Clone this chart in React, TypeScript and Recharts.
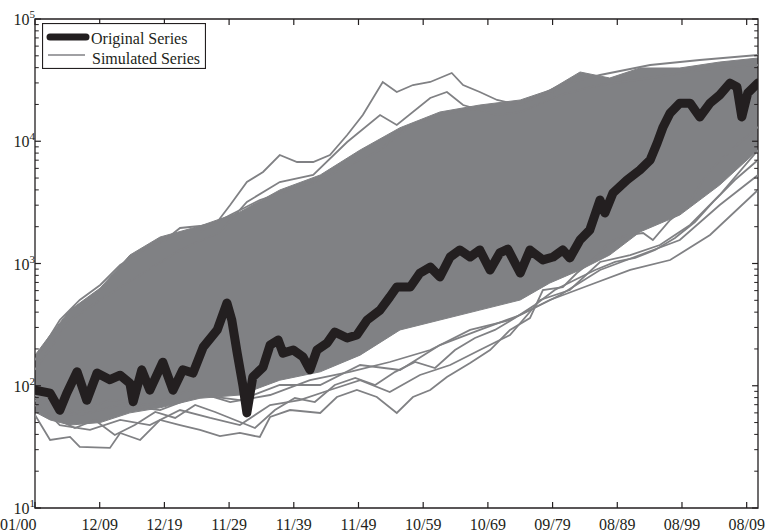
import React from 'react';
import {
  ComposedChart,
  Line,
  Area,
  XAxis,
  YAxis,
  ReferenceLine,
  ReferenceArea,
  Legend,
} from 'recharts';

// x = observation index (monthly), ticks every 120 observations
const dateTicks = [0, 120, 240, 360, 480, 600, 720, 840, 960, 1080, 1200, 1320];
const dateLabels = ['01/00', '12/09', '12/19', '11/29', '11/39', '11/49', '10/59', '10/69', '09/79', '08/89', '08/99', '08/09'];
const lastObs = 1341;
const decadeTicks = [10, 100, 1000, 10000, 100000];
const minorSteps = [2, 3, 4, 5, 6, 7, 8, 9];

// original series
const originalT = [0, 28, 46, 59, 78, 96, 115, 139, 158, 176, 182, 198, 213, 237, 256, 274, 293, 312, 338, 356, 365, 375, 386, 393, 404, 423, 436, 451, 460, 479, 497, 510, 523, 542, 556, 579, 597, 616, 640, 658, 671, 696, 714, 733, 751, 770, 788, 807, 825, 844, 862, 877, 900, 918, 942, 961, 979, 992, 1011, 1029, 1048, 1057, 1072, 1098, 1122, 1141, 1154, 1165, 1178, 1196, 1215, 1233, 1252, 1270, 1289, 1302, 1311, 1322, 1341];
const originalV = [92, 87, 63, 87, 130, 76, 127, 112, 122, 105, 74, 135, 92, 156, 92, 135, 127, 207, 286, 475, 345, 185, 98, 60, 118, 142, 215, 237, 185, 196, 172, 135, 196, 224, 275, 246, 260, 345, 416, 532, 642, 642, 836, 936, 776, 1130, 1290, 1130, 1290, 885, 1220, 1310, 836, 1290, 1070, 1130, 1290, 1110, 1560, 1880, 3310, 2590, 3770, 4820, 5820, 7020, 9670, 13100, 17000, 20500, 20500, 15800, 20500, 23900, 29900, 27800, 15800, 24800, 29900];

// dense core of the simulated paths (low / high edge)
const bandT = [0, 28, 65, 121, 176, 232, 306, 380, 454, 529, 603, 677, 751, 825, 900, 955, 1011, 1066, 1122, 1196, 1270, 1341];
const bandLow = [61, 52.5, 47.7, 50, 60, 66, 79, 84, 111, 130, 178, 286, 345, 416, 503, 693, 885, 1173, 1810, 2493, 4386, 8480];
const bandHigh = [178, 260, 416, 630, 1173, 1647, 2026, 2638, 3993, 5296, 8480, 12900, 17350, 19790, 21750, 26260, 36860, 32910, 39740, 39740, 44490, 47970];

// individual simulated paths at the edges of the fan
const simAT = [0, 46, 83, 121, 158, 208, 241, 269, 306, 338, 362, 393, 423, 454, 486, 516, 547, 579, 608, 645, 671, 701, 733, 773, 794, 825, 857, 900, 974, 1048, 1141, 1233, 1341];
const simAV = [162, 345, 503, 667, 972, 1339, 1557, 1952, 2026, 2185, 3009, 4642, 5605, 7719, 6767, 6767, 7719, 11250, 16400, 30530, 25290, 28850, 30530, 36170, 28850, 25290, 21750, 19790, 28850, 34830, 42040, 46190, 50770];

const simBT = [0, 65, 121, 195, 269, 343, 393, 454, 516, 579, 640, 671, 733, 764, 794, 857, 900, 974, 1048, 1141, 1233, 1341];
const simBV = [135, 345, 503, 805, 1290, 1810, 3186, 4642, 5296, 9860, 16400, 13580, 22580, 25290, 19790, 16400, 17350, 23890, 28850, 32910, 38250, 42040];

const simCT = [306, 362, 417, 473, 529, 584, 640, 696, 751, 807, 862, 918, 974];
const simCV = [1810, 2493, 3307, 3993, 4820, 6392, 8480, 13580, 16400, 18010, 19790, 21750, 26260];

const simDT = [0, 28, 65, 83, 139, 158, 195, 232, 269, 306, 343, 380, 417, 436, 473, 529, 560, 597, 634, 671, 701, 733, 764, 807, 844, 881, 918, 942, 979, 1005, 1035, 1066, 1098, 1128, 1146, 1178, 1209, 1239, 1265, 1302, 1341];
const simDV = [57.6, 36, 38.1, 31.6, 31, 41.1, 36, 52.5, 47.7, 43.5, 38.8, 41.1, 38.1, 55.5, 63.3, 59.9, 80.9, 92.3, 80.9, 59.9, 80.9, 92.3, 118, 153.5, 196, 286, 358, 607, 642, 836, 1068, 1499, 1710, 1776, 1557, 2269, 2899, 4820, 6640, 9320, 13080];

const simET = [0, 46, 102, 158, 213, 269, 325, 380, 436, 491, 547, 603, 658, 714, 770, 825, 881, 937, 992, 1048, 1104, 1159, 1215, 1270, 1341];
const simEV = [76.4, 47.7, 43.5, 52.5, 47.7, 63.3, 54.5, 47.7, 69.6, 76.4, 92.3, 111, 88.9, 122.4, 147.8, 196, 260, 503, 607, 1029, 1173, 1417, 2065, 3634, 8480];

const simFT = [0, 83, 158, 232, 306, 380, 454, 529, 603, 677, 751, 825, 900, 974, 1048, 1122, 1196, 1270, 1341];
const simFV = [84, 57.6, 69.6, 63.3, 84, 76.4, 101.4, 101.4, 147.8, 134.5, 215, 286, 379, 552, 885, 1173, 1557, 3009, 5296];

const simGT = [0, 37, 74, 111, 148, 185, 223, 260, 297, 334, 371, 408, 445, 482, 519, 556, 594, 631, 668, 705, 742, 779, 816, 853, 890, 927, 964, 1001, 1039, 1076, 1113, 1150, 1187, 1224, 1261, 1298, 1341];
const simGV = [69.6, 54.5, 45.1, 52.5, 39.5, 47.7, 61, 54.5, 69.6, 61, 52.5, 45.1, 63.3, 79.4, 73.6, 101.4, 115.7, 101.4, 130, 156.4, 139.7, 196, 245.8, 286, 358, 457.6, 607, 733, 885, 1029, 1109, 1290, 1617, 2185, 3307, 4820, 7025];

const simHT = [0, 65, 139, 213, 287, 362, 436, 510, 584, 658, 733, 807, 881, 955, 1029, 1104, 1178, 1252, 1341];
const simHV = [79.4, 57.6, 76.4, 69.6, 92.3, 73.6, 84, 111, 130, 156.4, 196, 286, 345, 503, 667, 885, 1068, 1710, 3993];

const INK = '#231f20';
const SIM = '#808184';
const FONT = '"Liberation Serif", "Times New Roman", serif';

const toPoints = (t: number[], v: number[]) => t.map((x, i) => ({ t: x, v: v[i] }));

const original = toPoints(originalT, originalV);
const band = bandT.map((t, i) => ({ t, band: [bandLow[i], bandHigh[i]] }));
const simulated = [
  toPoints(simAT, simAV),
  toPoints(simBT, simBV),
  toPoints(simCT, simCV),
  toPoints(simDT, simDV),
  toPoints(simET, simEV),
  toPoints(simFT, simFV),
  toPoints(simGT, simGV),
  toPoints(simHT, simHV),
];

// inward tick lengths (in data units)
const xTickLen = 11;
const xMinorLen = 7;
const yTickFactor = 1.12;

const DateTick = (props: any) => {
  const { x, y, payload } = props;
  const i = dateTicks.indexOf(payload.value);
  const first = i === 0;
  return (
    <text
      x={first ? 0 : x}
      y={y}
      dy={21.5}
      textAnchor={first ? 'start' : 'middle'}
      fontFamily={FONT}
      fontSize={16}
      fill={INK}
    >
      {dateLabels[i]}
    </text>
  );
};

const PowerTick = (props: any) => {
  const { x, y, payload } = props;
  const exp = Math.round(Math.log10(payload.value));
  return (
    <text x={x} y={y} dy={6} textAnchor="end" fontFamily={FONT} fontSize={16} fill={INK}>
      10
      <tspan dy={-7} fontSize={11}>
        {exp}
      </tspan>
    </text>
  );
};

const renderLegend = () => (
  <svg width={164} height={46} style={{ display: 'block' }}>
    <rect x={0.5} y={0.5} width={163} height={45} fill="#fff" stroke={INK} strokeWidth={1.2} />
    <line x1={8} y1={14} x2={44} y2={14} stroke={INK} strokeWidth={7} strokeLinecap="round" />
    <text x={49} y={21} fontFamily={FONT} fontSize={16} fill={INK}>
      Original Series
    </text>
    <line x1={6} y1={32} x2={43} y2={32} stroke={SIM} strokeWidth={1.5} />
    <text x={50} y={41} fontFamily={FONT} fontSize={16} fill={INK}>
      Simulated Series
    </text>
  </svg>
);

const minorValues = decadeTicks.slice(0, 4).flatMap((d) => minorSteps.map((m) => d * m));

const App: React.FC = () => {
  return (
    <div style={{ position: 'absolute', left: 0, top: 0, width: 765, height: 532, background: '#fff' }}>
      <ComposedChart width={765} height={532} margin={{ top: 19, right: 7, bottom: 0, left: 0 }}>
        <XAxis
          dataKey="t"
          type="number"
          domain={[0, lastObs]}
          ticks={dateTicks}
          interval={0}
          allowDataOverflow
          tick={<DateTick />}
          tickLine={false}
          axisLine={false}
          tickSize={0}
          tickMargin={0}
          height={24}
        />
        <YAxis
          type="number"
          scale="log"
          domain={[10, 100000]}
          ticks={decadeTicks}
          interval={0}
          allowDataOverflow
          tick={<PowerTick />}
          tickLine={false}
          axisLine={false}
          tickSize={0}
          tickMargin={0}
          width={35}
        />
        <Legend
          content={renderLegend}
          layout="horizontal"
          verticalAlign="middle"
          align="center"
          wrapperStyle={{ left: 42, top: 23, width: 164, height: 46 }}
        />

        <Area
          data={band}
          dataKey="band"
          type="linear"
          fill={SIM}
          fillOpacity={1}
          stroke={SIM}
          strokeWidth={1}
          isAnimationActive={false}
          legendType="none"
        />
        {simulated.map((pts, i) => (
          <Line
            key={`sim-${i}`}
            data={pts}
            dataKey="v"
            type="linear"
            stroke={SIM}
            strokeWidth={1.8}
            dot={false}
            isAnimationActive={false}
            legendType="none"
          />
        ))}
        <Line
          data={original}
          dataKey="v"
          type="linear"
          stroke={INK}
          strokeWidth={9}
          strokeLinejoin="round"
          strokeLinecap="round"
          dot={false}
          isAnimationActive={false}
          legendType="none"
        />

        {/* inward ticks on all four sides */}
        {dateTicks.map((t) => (
          <ReferenceLine key={`xb-${t}`} segment={[{ x: t, y: 10 }, { x: t, y: 10 * yTickFactor }]} stroke={INK} strokeWidth={1.2} />
        ))}
        {dateTicks.map((t) => (
          <ReferenceLine key={`xt-${t}`} segment={[{ x: t, y: 100000 / yTickFactor }, { x: t, y: 100000 }]} stroke={INK} strokeWidth={1.2} />
        ))}
        {decadeTicks.map((v) => (
          <ReferenceLine key={`yl-${v}`} segment={[{ x: 0, y: v }, { x: xTickLen, y: v }]} stroke={INK} strokeWidth={1.2} />
        ))}
        {decadeTicks.map((v) => (
          <ReferenceLine key={`yr-${v}`} segment={[{ x: lastObs - xTickLen, y: v }, { x: lastObs, y: v }]} stroke={INK} strokeWidth={1.2} />
        ))}
        {minorValues.map((v) => (
          <ReferenceLine key={`ml-${v}`} segment={[{ x: 0, y: v }, { x: xMinorLen, y: v }]} stroke={INK} strokeWidth={1} />
        ))}
        {minorValues.map((v) => (
          <ReferenceLine key={`mr-${v}`} segment={[{ x: lastObs - xMinorLen, y: v }, { x: lastObs, y: v }]} stroke={INK} strokeWidth={1} />
        ))}
        <ReferenceArea
          x1={0}
          x2={lastObs}
          y1={10}
          y2={100000}
          fill="none"
          stroke={INK}
          strokeWidth={1.3}
          ifOverflow="visible"
        />
      </ComposedChart>
    </div>
  );
};

export default App;
